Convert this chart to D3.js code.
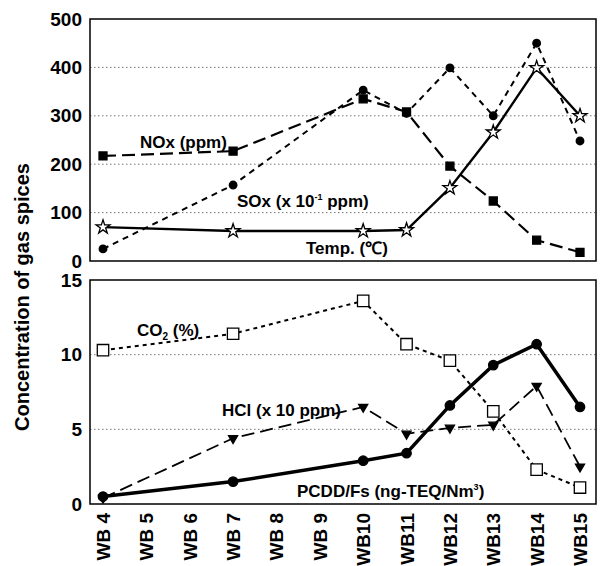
<!DOCTYPE html>
<html>
<head>
<meta charset="utf-8">
<script src="https://cdn.jsdelivr.net/npm/d3@7"></script>
<style>
body { margin: 0; background: #fff; }
text { font-family: "Liberation Sans", Arial, sans-serif; font-weight: bold; }
</style>
</head>
<body>
<div id="chart"></div>
<script>
var svgwidth = 607;
var svgheight = 566;

// categories (x axis)
var categories = ["WB 4", "WB 5", "WB 6", "WB 7", "WB 8", "WB 9", "WB10", "WB11", "WB12", "WB13", "WB14", "WB15"];

// top panel ticks and series (null = not measured)
var topTicks = [0, 100, 200, 300, 400, 500];
var noxValues  = [217, null, null, 227, null, null, 335, 308, 196, 124, 43, 18];
var soxValues  = [25, null, null, 157, null, null, 353, 305, 399, 300, 450, 248];
var tempValues = [70, null, null, 62, null, null, 62, 64, 151, 266, 399, 300];

// bottom panel ticks and series
var bottomTicks = [0, 5, 10, 15];
var co2Values   = [10.3, null, null, 11.4, null, null, 13.6, 10.7, 9.6, 6.2, 2.3, 1.1];
var hclValues   = [0.4, null, null, 4.4, null, null, 6.5, 4.7, 5.1, 5.3, 7.9, 2.5];
var pcddValues  = [0.5, null, null, 1.5, null, null, 2.9, 3.4, 6.6, 9.3, 10.7, 6.5];

var svg = d3.select("#chart")
    .append("svg")
    .attr("width", svgwidth)
    .attr("height", svgheight);

var xscale = d3.scalePoint()
    .domain(categories)
    .range([103, 580]);

var ytop = d3.scaleLinear().domain([0, 500]).range([261, 19]);
var ybot = d3.scaleLinear().domain([0, 15]).range([504, 280]);

function toPoints(vals) {
    return vals.map(function(v, i) { return {c: categories[i], v: v}; })
               .filter(function(d) { return d.v !== null; });
}

function panel(yscale, ticks) {
    var g = svg.append("g");
    // dotted gridlines
    g.selectAll("line.grid")
        .data(ticks.slice(1, -1))
        .join("line")
        .attr("x1", 90).attr("x2", 596)
        .attr("y1", d => yscale(d)).attr("y2", d => yscale(d))
        .attr("stroke", "#777")
        .attr("stroke-width", 1)
        .attr("stroke-dasharray", "1.5,2.5");
    // frame
    g.append("rect")
        .attr("x", 90).attr("y", yscale.range()[1])
        .attr("width", 506).attr("height", yscale.range()[0] - yscale.range()[1])
        .attr("fill", "none")
        .attr("stroke", "#000")
        .attr("stroke-width", 1.5);
    // y axis
    var yaxis = d3.axisLeft(yscale).tickValues(ticks).tickSize(0).tickPadding(8);
    var ax = g.append("g").attr("transform", "translate(90,0)").call(yaxis);
    ax.select(".domain").remove();
    ax.selectAll("text")
        .style("font-size", "19px")
        .style("font-family", "Liberation Sans, Arial, sans-serif")
        .style("font-weight", "bold")
        .attr("fill", "#000");
    return g;
}

var gTop = panel(ytop, topTicks);
var gBot = panel(ybot, bottomTicks);

function drawLine(g, yscale, vals, width, dash) {
    var line = d3.line()
        .x(d => xscale(d.c))
        .y(d => yscale(d.v));
    g.append("path")
        .datum(toPoints(vals))
        .attr("d", line)
        .attr("fill", "none")
        .attr("stroke", "#000")
        .attr("stroke-width", width)
        .attr("stroke-dasharray", dash);
}

function drawMarks(g, yscale, vals, type, size, fill, rotate) {
    g.selectAll(null)
        .data(toPoints(vals))
        .join("path")
        .attr("d", d3.symbol().type(type).size(size))
        .attr("transform", d => "translate(" + xscale(d.c) + "," + yscale(d.v) + ")" + (rotate ? " rotate(180)" : ""))
        .attr("fill", fill)
        .attr("stroke", "#000")
        .attr("stroke-width", 1.3);
}

// top panel
drawLine(gTop, ytop, noxValues, 2.2, "13,6");
drawLine(gTop, ytop, soxValues, 2, "6,5");
drawLine(gTop, ytop, tempValues, 2.4, null);
drawMarks(gTop, ytop, noxValues, d3.symbolSquare, 64, "#000");
drawMarks(gTop, ytop, soxValues, d3.symbolCircle, 45, "#000");
drawMarks(gTop, ytop, tempValues, d3.symbolStar, 60, "#fff");

// bottom panel
drawLine(gBot, ybot, co2Values, 2, "4,4");
drawLine(gBot, ybot, hclValues, 1.8, "13,6");
drawLine(gBot, ybot, pcddValues, 3.5, null);
drawMarks(gBot, ybot, co2Values, d3.symbolSquare, 130, "#fff");
drawMarks(gBot, ybot, hclValues, d3.symbolTriangle, 36, "#000", true);
drawMarks(gBot, ybot, pcddValues, d3.symbolCircle, 70, "#000");

// series labels
function label(x, y, parts) {
    var t = svg.append("text")
        .attr("x", x).attr("y", y)
        .style("font-size", "17px")
        .attr("fill", "#000");
    parts.forEach(function(p) {
        var s = t.append("tspan").text(p[0]);
        if (p[1] === "sup") s.style("font-size", "9px").attr("dy", -7);
        if (p[1] === "sub") s.style("font-size", "10px").attr("dy", 4);
        if (p[1] === "back") s.attr("dy", p[2]);
    });
}
label(140, 148, [["NOx (ppm)"]]);
label(237, 207, [["SOx (x 10"], ["-1", "sup"], [" ppm)", "back", 7]]);
label(306, 254, [["Temp. (℃)"]]);
label(137, 336, [["CO"], ["2", "sub"], [" (%)", "back", -4]]);
label(222, 416, [["HCl (x 10 ppm)"]]);
label(297, 497, [["PCDD/Fs (ng-TEQ/Nm"], ["3", "sup"], [")", "back", 7]]);

// x axis labels (rotated)
svg.append("g")
    .selectAll("text")
    .data(categories)
    .join("text")
    .attr("transform", d => "translate(" + (xscale(d) + 7) + ",513) rotate(-90)")
    .attr("text-anchor", "end")
    .style("font-size", "19px")
    .attr("fill", "#000")
    .text(d => d);

// y axis title
svg.append("text")
    .attr("transform", "translate(29,297) rotate(-90)")
    .attr("text-anchor", "middle")
    .style("font-size", "20px")
    .attr("fill", "#000")
    .text("Concentration of gas spices");
</script>
</body>
</html>
